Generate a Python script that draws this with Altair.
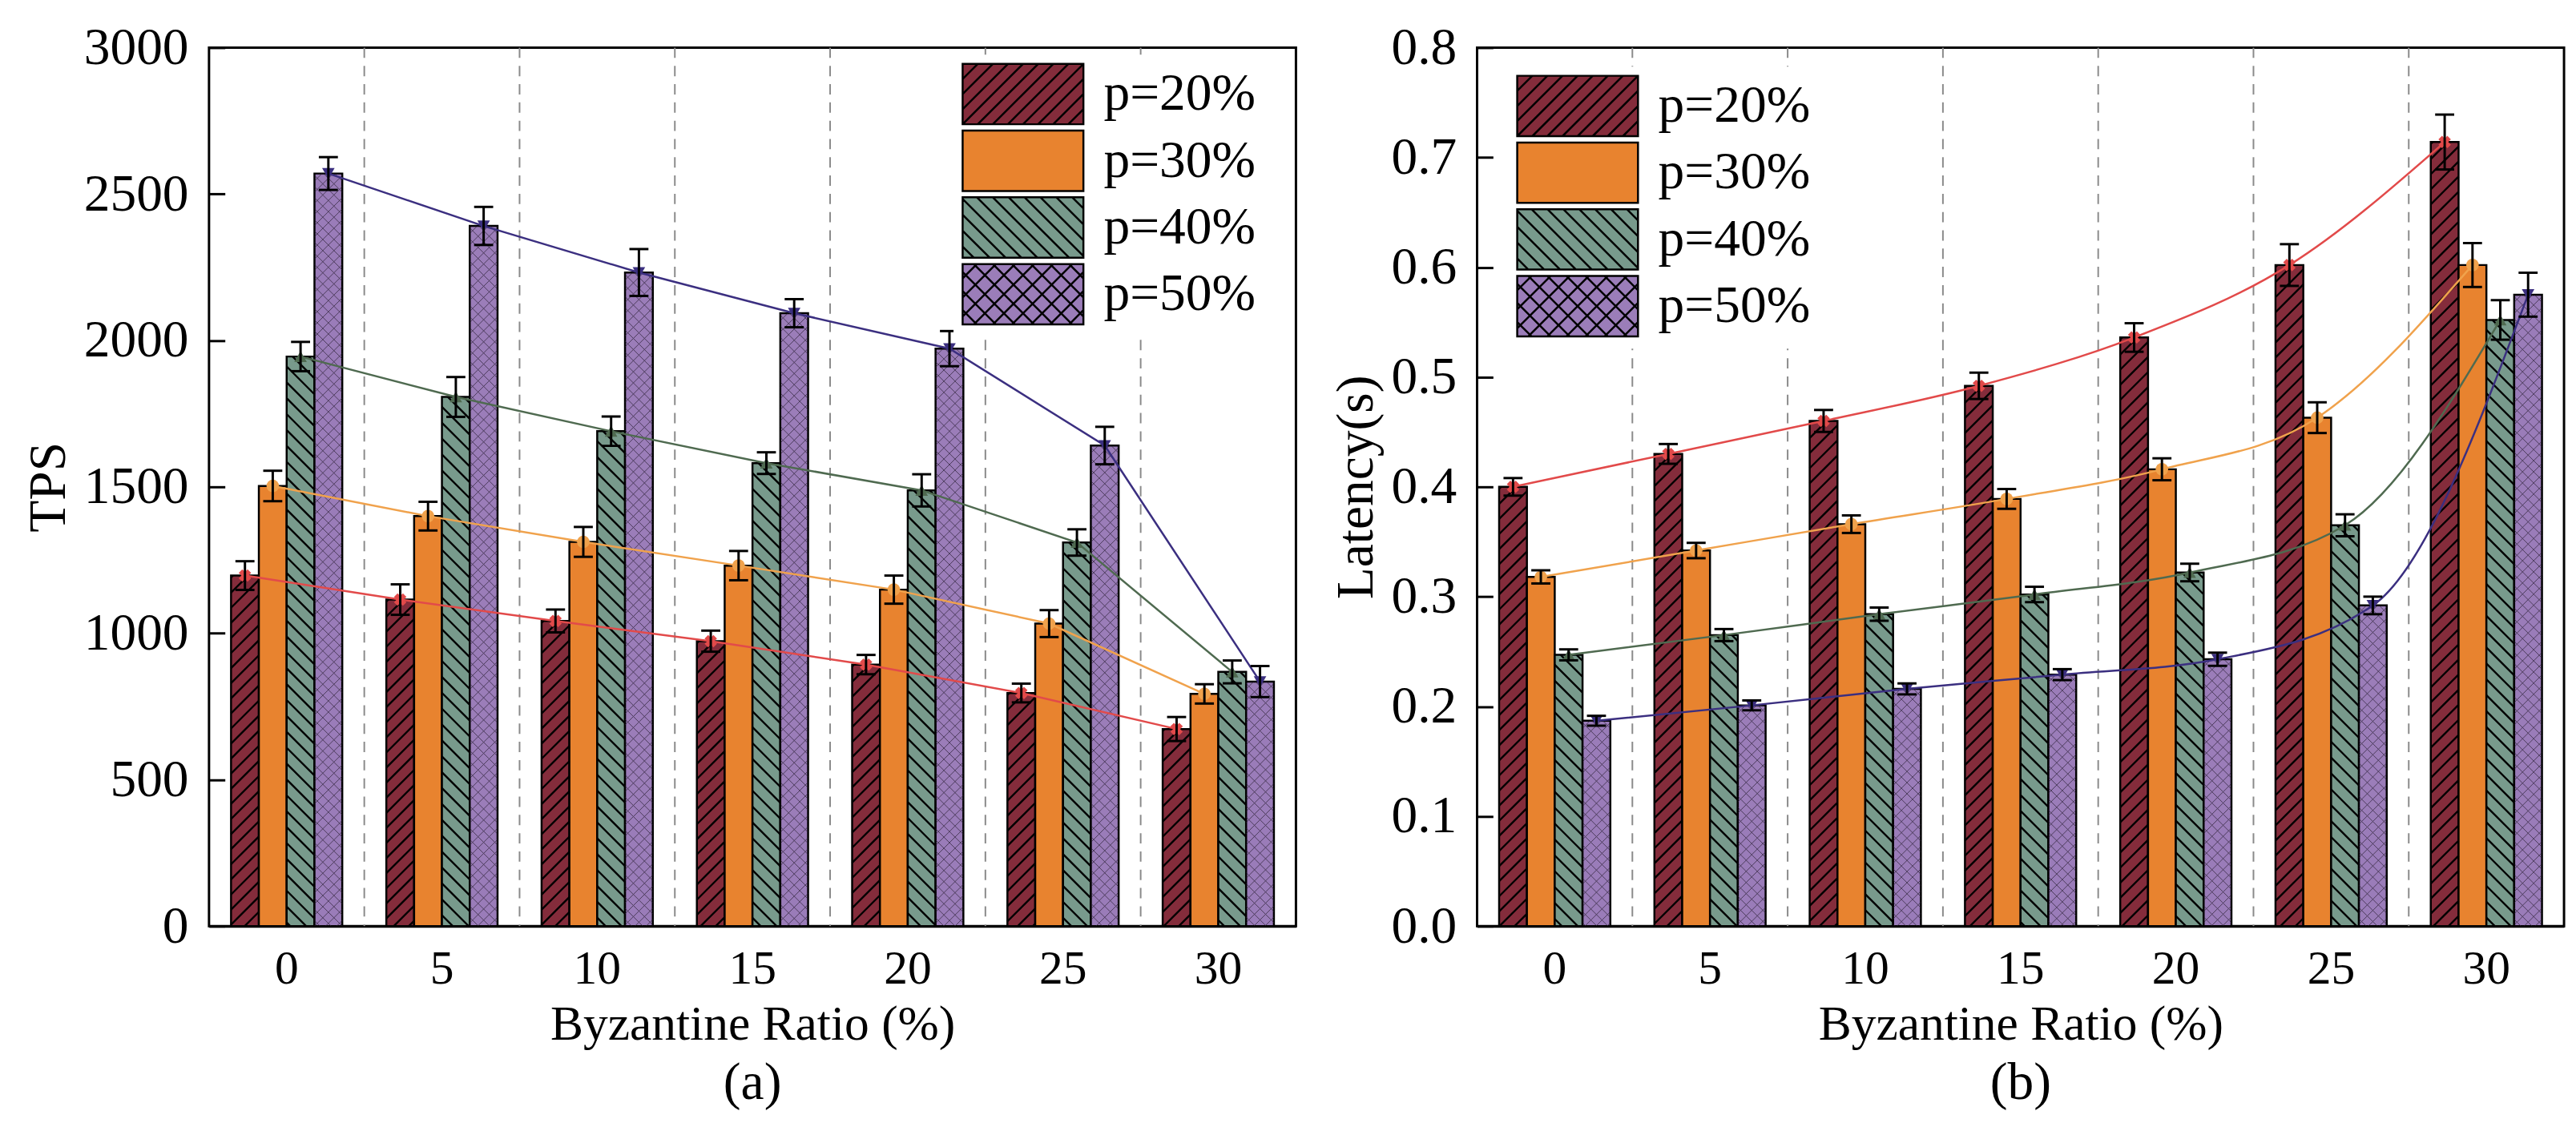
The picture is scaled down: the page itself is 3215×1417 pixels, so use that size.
import altair as alt
import pandas as pd

# ---------------- data ----------------
categories = [0, 5, 10, 15, 20, 25, 30]
series = ["p=20%", "p=30%", "p=40%", "p=50%"]

tps_p20 = [1197, 1115, 1042, 973, 893, 796, 673]
tps_p30 = [1503, 1400, 1312, 1231, 1149, 1033, 793]
tps_p40 = [1945, 1807, 1690, 1581, 1488, 1310, 868]
tps_p50 = [2570, 2391, 2232, 2093, 1972, 1641, 835]
tps_err_p20 = [49, 52, 39, 36, 33, 32, 41]
tps_err_p30 = [52, 49, 51, 50, 48, 46, 33]
tps_err_p40 = [50, 68, 50, 37, 55, 45, 39]
tps_err_p50 = [56, 65, 80, 48, 60, 64, 53]

lat_p20 = [0.400, 0.430, 0.460, 0.492, 0.536, 0.602, 0.714]
lat_p30 = [0.318, 0.342, 0.366, 0.389, 0.416, 0.463, 0.602]
lat_p40 = [0.247, 0.265, 0.284, 0.302, 0.322, 0.365, 0.552]
lat_p50 = [0.187, 0.201, 0.216, 0.229, 0.243, 0.292, 0.575]
lat_err_p20 = [0.008, 0.009, 0.010, 0.012, 0.013, 0.019, 0.025]
lat_err_p30 = [0.006, 0.007, 0.008, 0.009, 0.010, 0.014, 0.020]
lat_err_p40 = [0.005, 0.0055, 0.006, 0.007, 0.008, 0.010, 0.018]
lat_err_p50 = [0.0045, 0.0045, 0.005, 0.005, 0.006, 0.008, 0.020]

tps_ticks = [0, 500, 1000, 1500, 2000, 2500, 3000]
lat_ticks = [0.0, 0.1, 0.2, 0.3, 0.4, 0.5, 0.6, 0.7, 0.8]

# ---------------- styles ----------------
FONT = "Liberation Serif"
bar_colors = ["#842C3B", "#E8832F", "#789A8C", "#9B7DB9"]
line_colors = ["#E24A4A", "#F0A24C", "#4F6A50", "#3B2F80"]
marker_shapes = ["cross", "circle", "triangle-up", "triangle-down"]
marker_angles = [45, 0, 0, 0]

W, H = 1368, 1106
BAND = W / len(categories)
OFF_PAD = 0.792
BAR_W = BAND / (len(series) + 2 * OFF_PAD)
L = 1300.0  # length of the hatch symbol (clipped at the x axis)
TICK = 20


def hatch(w, h, period, kind, unit):
    hw, hh = w / 2.0, h / 2.0
    n = int((w + h) / period) + 2
    out = []
    for k in range(-n, n + 1):
        c = k * period
        x1 = max(-hw, c - hh)
        x2 = min(hw, c + hh)
        if x2 - x1 <= 1e-6:
            continue
        if kind == "/":
            y1, y2 = c - x1, c - x2
        else:
            y1, y2 = x1 - c, x2 - c
        out.append("M%.4f,%.4fL%.4f,%.4f" % (x1 / unit, y1 / unit, x2 / unit, y2 / unit))
    return "".join(out)


# hatch for bars (one tall symbol per bar, clipped at the x axis)
bar_hatch = {
    0: (hatch(BAR_W, L, 19, "/", L / 2), 2.4, "black", 1.0),
    2: (hatch(BAR_W, L, 20, "\\", L / 2), 2.4, "black", 1.0),
    3: (hatch(BAR_W, L, 14, "/", L / 2) + hatch(BAR_W, L, 14, "\\", L / 2), 1.0, "#2a2035", 0.7),
}

# legend swatches: rectangle 152 x 76 (unit 38 px)
SW, SH, U = 152.0, 76.0, 38.0
rect = "M-2,-1H2V1H-2Z"
legend_paths = [
    rect + hatch(SW, SH, 19, "/", U),
    rect,
    rect + hatch(SW, SH, 20, "\\", U),
    rect + hatch(SW, SH, 24, "/", U) + hatch(SW, SH, 24, "\\", U),
]


def build_df(vals, errs):
    rows = []
    for si, s in enumerate(series):
        for ci, c in enumerate(categories):
            v = vals[si][ci]
            e = errs[si][ci]
            rows.append({"cat": c, "series": s, "v": v, "lo": v - e, "hi": v + e})
    return pd.DataFrame(rows)


def panel(df, ymax, yvalues, yfmt, ytitle, caption, lx, ly, interp):
    xscale = alt.Scale(domain=categories, paddingInner=0, paddingOuter=0)
    xaxis = alt.Axis(
        title="Byzantine Ratio (%)", labelAngle=0, ticks=False, labelFontSize=60,
        titleFontSize=62, labelPadding=25, titlePadding=10, domainColor="black",
        domainWidth=3, labelColor="black", titleColor="black", titleFontWeight="normal",
        labelFont=FONT, titleFont=FONT, grid=False,
    )
    yscale = alt.Scale(domain=[0, ymax], nice=False, zero=True)
    yaxis = alt.Axis(
        title=ytitle, values=yvalues, format=yfmt, labelFontSize=66, titleFontSize=66,
        labelPadding=26, titlePadding=10, tickSize=TICK, tickWidth=3, tickColor="black",
        offset=-TICK, domain=False, labelColor="black", titleColor="black",
        titleFontWeight="normal", labelFont=FONT, titleFont=FONT, grid=False,
    )
    xo = alt.XOffset("series:N", scale=alt.Scale(domain=series, paddingInner=0, paddingOuter=OFF_PAD))
    fill_scale = alt.Scale(domain=series, range=bar_colors)

    def X(**kw):
        return alt.X("cat:O", scale=xscale, axis=xaxis, **kw)

    def Y(f):
        return alt.Y(f + ":Q", scale=yscale, axis=yaxis)

    base = alt.Chart(df)
    seps = alt.Chart(pd.DataFrame({"cat": categories[:-1]})).mark_rule(
        stroke="#8a8a8a", strokeWidth=2, strokeDash=[13, 10]
    ).encode(x=X(bandPosition=1))

    bars = base.mark_bar(stroke="black", strokeWidth=2.5).encode(
        x=X(), xOffset=xo, y=Y("v"),
        fill=alt.Fill("series:N", scale=fill_scale),
    )

    half = (L / 2) * ymax / H
    hatches = []
    for si, (path, sw, col, op) in bar_hatch.items():
        hatches.append(
            base.transform_filter(alt.datum.series == series[si])
            .transform_calculate(hy="datum.v - %f" % half)
            .mark_point(shape=path, size=L * L, filled=False, stroke=col,
                        strokeWidth=sw, opacity=op, clip=True)
            .encode(x=X(), xOffset=xo, y=Y("hy"))
        )

    lines = []
    markers = []
    for si, s in enumerate(series):
        sub = base.transform_filter(alt.datum.series == s)
        lines.append(
            sub.mark_line(strokeWidth=2.5, interpolate=interp, color=line_colors[si])
            .encode(x=X(), xOffset=xo, y=Y("v"))
        )
        markers.append(
            sub.mark_point(filled=True, shape=marker_shapes[si], angle=marker_angles[si],
                           size=250, color=line_colors[si], opacity=1)
            .encode(x=X(), xOffset=xo, y=Y("v"))
        )

    rules = base.mark_rule(color="black", strokeWidth=3).encode(
        x=X(), xOffset=xo, y=Y("lo"), y2="hi")
    cap_hi = base.mark_tick(color="black", thickness=3, size=24, opacity=1).encode(
        x=X(), xOffset=xo, y=Y("hi"))
    cap_lo = base.mark_tick(color="black", thickness=3, size=24, opacity=1).encode(
        x=X(), xOffset=xo, y=Y("lo"))

    leg = alt.Legend(
        orient="none", legendX=lx, legendY=ly, title=None,
        symbolSize=SH * SH, symbolStrokeColor="black", symbolStrokeWidth=2.5,
        symbolOpacity=1, symbolOffset=38, labelOffset=62, labelFontSize=66,
        labelFont=FONT, labelColor="black", rowPadding=-3, padding=10,
        fillColor="white", labelLimit=0,
    )
    dummy = alt.Chart(pd.DataFrame({"series": series})).mark_point(
        filled=True, opacity=0, stroke="black", strokeWidth=2.5
    ).encode(
        fill=alt.Fill("series:N", scale=fill_scale, legend=leg),
        shape=alt.Shape("series:N", scale=alt.Scale(domain=series, range=legend_paths), legend=leg),
    )

    return alt.layer(seps, bars, *hatches, *lines, *markers, rules, cap_hi, cap_lo, dummy).properties(
        width=W, height=H,
        title=alt.TitleParams(caption, orient="bottom", fontSize=66, font=FONT,
                              fontWeight="normal", color="black", offset=11, anchor="middle"),
    )


df_tps = build_df([tps_p20, tps_p30, tps_p40, tps_p50],
                  [tps_err_p20, tps_err_p30, tps_err_p40, tps_err_p50])
df_lat = build_df([lat_p20, lat_p30, lat_p40, lat_p50],
                  [lat_err_p20, lat_err_p30, lat_err_p40, lat_err_p50])

left = panel(df_tps, 3000, tps_ticks, "d", "TPS", "(a)", 937, 9, "linear")
right = panel(df_lat, 0.8, lat_ticks, ".1f", "Latency(s)", "(b)", 39, 24, "monotone")

chart = alt.hconcat(left, right, spacing=39).resolve_scale(
    fill="independent", shape="independent"
).resolve_legend(
    fill="independent", shape="independent"
).properties(
    padding={"left": 18, "top": 11, "right": 5, "bottom": 5}
).configure(font=FONT).configure_view(stroke="black", strokeWidth=3)

chart.save("out.html", embed_options={"renderer": "svg", "actions": False})
